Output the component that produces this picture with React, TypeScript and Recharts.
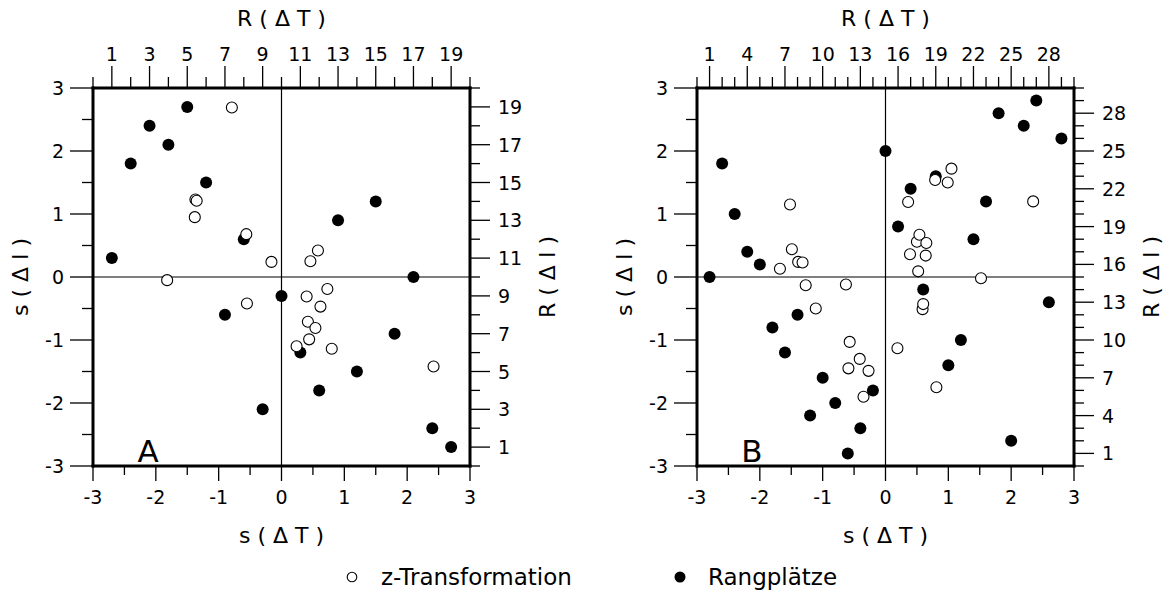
import { ScatterChart, Scatter, XAxis, YAxis, ReferenceLine, Label } from 'recharts';

// s-scale ticks (bottom / left)
const sTicks = [-3, -2.5, -2, -1.5, -1, -0.5, 0, 0.5, 1, 1.5, 2, 2.5, 3];

// rank ticks
const rankTicksA = [0, 1, 2, 3, 4, 5, 6, 7, 8, 9, 10, 11, 12, 13, 14, 15, 16, 17, 18, 19, 20];
const rankLabelsA = [1, 3, 5, 7, 9, 11, 13, 15, 17, 19];
const rankTicksB = [0, 1, 2, 3, 4, 5, 6, 7, 8, 9, 10, 11, 12, 13, 14, 15, 16, 17, 18, 19, 20, 21, 22, 23, 24, 25, 26, 27, 28, 29, 30];
const rankLabelsB = [1, 4, 7, 10, 13, 16, 19, 22, 25, 28];

// panel A: z-Transformation
const zA_T = [-1.82, -1.38, -1.37, -1.35, -0.79, -0.56, -0.55, -0.16, 0.24, 0.4, 0.42, 0.44, 0.46, 0.54, 0.58, 0.62, 0.73, 0.8, 2.42];
const zA_I = [-0.05, 0.95, 1.23, 1.21, 2.69, 0.68, -0.42, 0.24, -1.1, -0.31, -0.71, -0.99, 0.25, -0.81, 0.42, -0.47, -0.19, -1.14, -1.42];
// panel A: Rangplätze
const rA_T = [1, 2, 3, 4, 5, 6, 7, 8, 9, 10, 11, 12, 13, 14, 15, 16, 17, 18, 19];
const rA_I = [11, 16, 18, 17, 19, 15, 8, 12, 3, 9, 6, 4, 13, 5, 14, 7, 10, 2, 1];

// panel B: z-Transformation
const zB_T = [-1.68, -1.52, -1.49, -1.39, -1.32, -1.27, -1.11, -0.63, -0.59, -0.57, -0.41, -0.35, -0.27, 0.19, 0.36, 0.39, 0.5, 0.52, 0.54, 0.59, 0.6, 0.64, 0.65, 0.79, 0.81, 0.99, 1.05, 1.52, 2.35];
const zB_I = [0.13, 1.15, 0.44, 0.24, 0.23, -0.13, -0.5, -0.12, -1.45, -1.03, -1.3, -1.9, -1.49, -1.13, 1.19, 0.36, 0.56, 0.09, 0.67, -0.51, -0.43, 0.34, 0.54, 1.54, -1.75, 1.5, 1.72, -0.02, 1.2];
// panel B: Rangplätze
const rB_T = [1, 2, 3, 4, 5, 6, 7, 8, 9, 10, 11, 12, 13, 14, 15, 16, 17, 18, 19, 20, 21, 22, 23, 24, 25, 26, 27, 28, 29];
const rB_I = [15, 24, 20, 17, 16, 11, 9, 12, 4, 7, 5, 1, 3, 6, 25, 19, 22, 14, 23, 8, 10, 18, 21, 28, 2, 27, 29, 13, 26];

const FONT = '"DejaVu Sans", sans-serif';
const FS = 19;
const TFS = 22;
const boxLine = { stroke: '#000', strokeWidth: 3, strokeLinecap: 'square' as const };

type Orient = 'top' | 'bottom' | 'left' | 'right';

function makeTick(orient: Orient, labels: number[] | null) {
  return (p: any) => {
    const { x, y, payload } = p;
    const v = payload.value;
    const major = labels ? labels.includes(v) : Number.isInteger(v);
    const txt = String(v);
    if (orient === 'bottom') {
      const len = major ? 15 : 9;
      return (
        <g>
          <line x1={x} x2={x} y1={y} y2={y + len} stroke="#000" strokeWidth={1.3} />
          {major && (
            <text x={x} y={y + 38} textAnchor="middle" fontFamily={FONT} fontSize={FS} fill="#000">{txt}</text>
          )}
        </g>
      );
    }
    if (orient === 'top') {
      const len = major ? 22 : 11;
      return (
        <g>
          <line x1={x} x2={x} y1={y} y2={y - len} stroke="#000" strokeWidth={1.3} />
          {major && (
            <text x={x} y={y - 27} textAnchor="middle" fontFamily={FONT} fontSize={FS} fill="#000">{txt}</text>
          )}
        </g>
      );
    }
    if (orient === 'left') {
      const len = major ? 23 : 11;
      return (
        <g>
          <line x1={x} x2={x - len} y1={y} y2={y} stroke="#000" strokeWidth={1.3} />
          {major && (
            <text x={x - 29} y={y + 7} textAnchor="end" fontFamily={FONT} fontSize={FS} fill="#000">{txt}</text>
          )}
        </g>
      );
    }
    const len = major ? 20 : 10;
    return (
      <g>
        <line x1={x} x2={x + len} y1={y} y2={y} stroke="#000" strokeWidth={1.3} />
        {major && (
          <text x={x + 28} y={y + 7} textAnchor="start" fontFamily={FONT} fontSize={FS} fill="#000">{txt}</text>
        )}
      </g>
    );
  };
}

const openDot = (p: any) => <circle cx={p.cx} cy={p.cy} r={5.5} fill="#fff" stroke="#000" strokeWidth={1.1} />;
const fullDot = (p: any) => <circle cx={p.cx} cy={p.cy} r={6} fill="#000" />;

type PanelProps = {
  letter: string;
  zT: number[];
  zI: number[];
  rT: number[];
  rI: number[];
  rankMax: number;
  rankTicks: number[];
  rankLabels: number[];
  width: number;
  margin: { top: number; right: number; bottom: number; left: number };
};

function Panel({ letter, zT, zI, rT, rI, rankMax, rankTicks, rankLabels, width, margin }: PanelProps) {
  const zData = zT.map((x, i) => ({ x, y: zI[i] }));
  const rData = rT.map((x, i) => ({ x, y: rI[i] }));
  return (
    <ScatterChart width={width} height={550} margin={margin}>
      <XAxis
        xAxisId="s" type="number" dataKey="x" domain={[-3, 3]} ticks={sTicks} interval={0}
        orientation="bottom" height={50} axisLine={boxLine} tickLine={false} tickSize={0} tickMargin={0}
        tick={makeTick('bottom', null)}
      >
        <Label content={(p: any) => {
          const vb = p.viewBox;
          return (
            <text x={vb.x + vb.width / 2} y={vb.y + 77} textAnchor="middle" fontFamily={FONT} fontSize={TFS} fill="#000">s ( Δ T )</text>
          );
        }} />
      </XAxis>
      <XAxis
        xAxisId="r" type="number" dataKey="x" domain={[0, rankMax]} ticks={rankTicks} interval={0}
        orientation="top" height={60} axisLine={boxLine} tickLine={false} tickSize={0} tickMargin={0}
        tick={makeTick('top', rankLabels)}
      >
        <Label content={(p: any) => {
          const vb = p.viewBox;
          return (
            <text x={vb.x + vb.width / 2} y={vb.y - 2} textAnchor="middle" fontFamily={FONT} fontSize={TFS} fill="#000">R ( Δ T )</text>
          );
        }} />
      </XAxis>
      <YAxis
        yAxisId="s" type="number" dataKey="y" domain={[-3, 3]} ticks={sTicks} interval={0}
        orientation="left" width={60} axisLine={boxLine} tickLine={false} tickSize={0} tickMargin={0}
        tick={makeTick('left', null)}
      >
        <Label content={(p: any) => {
          const vb = p.viewBox;
          const cx = vb.x - 5;
          const cy = vb.y + vb.height / 2;
          return (
            <text x={cx} y={cy} transform={`rotate(-90 ${cx} ${cy})`} textAnchor="middle" fontFamily={FONT} fontSize={TFS} fill="#000">s ( Δ I )</text>
          );
        }} />
      </YAxis>
      <YAxis
        yAxisId="r" type="number" dataKey="y" domain={[0, rankMax]} ticks={rankTicks} interval={0}
        orientation="right" width={80} axisLine={boxLine} tickLine={false} tickSize={0} tickMargin={0}
        tick={makeTick('right', rankLabels)}
      >
        <Label content={(p: any) => {
          const vb = p.viewBox;
          const cx = vb.x + 85;
          const cy = vb.y + vb.height / 2;
          return (
            <text x={cx} y={cy} transform={`rotate(-90 ${cx} ${cy})`} textAnchor="middle" fontFamily={FONT} fontSize={TFS} fill="#000">R ( Δ I )</text>
          );
        }} />
      </YAxis>
      <ReferenceLine xAxisId="s" yAxisId="s" x={0} stroke="#000" strokeWidth={1.2} />
      <ReferenceLine
        xAxisId="s" yAxisId="s" y={0} stroke="#000" strokeWidth={1.2}
        label={(p: any) => {
          const vb = p.viewBox;
          return (
            <text x={vb.x + 55} y={vb.y + 185} textAnchor="middle" fontFamily={FONT} fontSize={31} fill="#000">{letter}</text>
          );
        }}
      />
      <Scatter name="Rangplätze" data={rData} xAxisId="r" yAxisId="r" shape={fullDot} isAnimationActive={false} />
      <Scatter name="z-Transformation" data={zData} xAxisId="s" yAxisId="s" shape={openDot} isAnimationActive={false} />
    </ScatterChart>
  );
}

export default function App() {
  return (
    <div style={{ position: 'absolute', left: 0, top: 0, width: 1165, height: 599, background: '#fff', fontFamily: FONT }}>
      <div style={{ position: 'absolute', left: 0, top: 0 }}>
        <Panel
          letter="A" zT={zA_T} zI={zA_I} rT={rA_T} rI={rA_I} rankMax={20}
          rankTicks={rankTicksA} rankLabels={rankLabelsA} width={580}
          margin={{ top: 28, right: 30, bottom: 34, left: 33 }}
        />
      </div>
      <div style={{ position: 'absolute', left: 580, top: 0 }}>
        <Panel
          letter="B" zT={zB_T} zI={zB_I} rT={rB_T} rI={rB_I} rankMax={30}
          rankTicks={rankTicksB} rankLabels={rankLabelsB} width={585}
          margin={{ top: 28, right: 11, bottom: 34, left: 57 }}
        />
      </div>
      <div style={{ position: 'absolute', left: 346, top: 564, display: 'flex', alignItems: 'center', fontSize: 23, color: '#000' }}>
        <svg width={12} height={12}><circle cx={6} cy={6} r={4.8} fill="#fff" stroke="#000" strokeWidth={1.1} /></svg>
        <span style={{ marginLeft: 23 }}>z-Transformation</span>
      </div>
      <div style={{ position: 'absolute', left: 673, top: 564, display: 'flex', alignItems: 'center', fontSize: 23, color: '#000' }}>
        <svg width={14} height={14}><circle cx={7} cy={7} r={5.5} fill="#000" /></svg>
        <span style={{ marginLeft: 21 }}>Rangplätze</span>
      </div>
    </div>
  );
}
